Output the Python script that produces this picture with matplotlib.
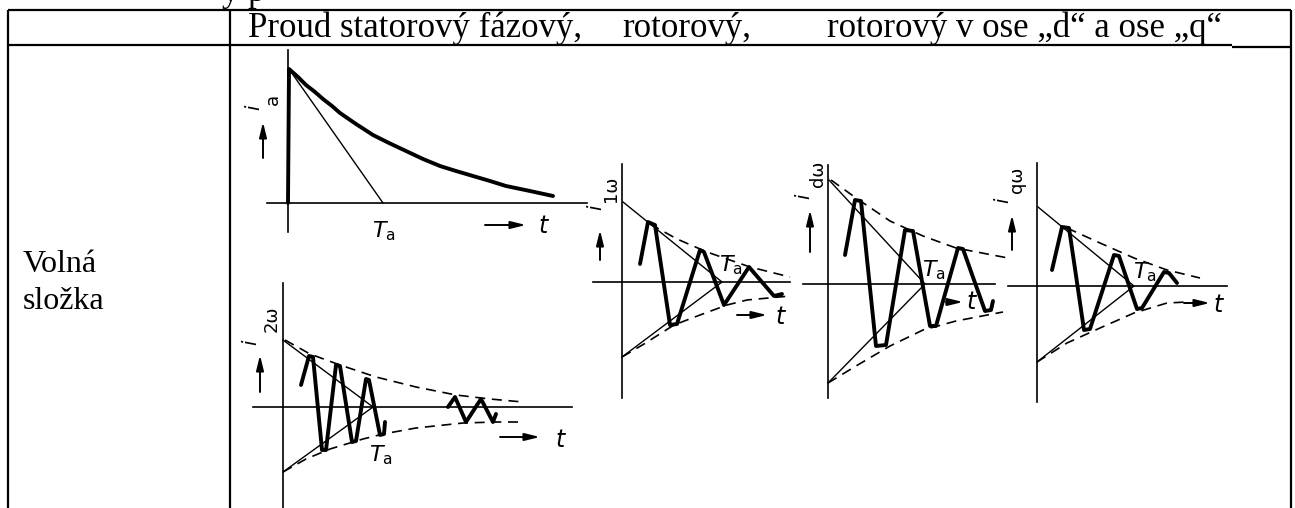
import matplotlib.pyplot as plt

plt.rcParams['font.family'] = ['DejaVu Sans']
plt.rcParams['mathtext.fontset'] = 'dejavusans'

W, H = 1295, 508

# text of the table
head_texts = ['Proud statorový fázový,', 'rotorový,', 'rotorový v ose „d“ a ose „q“']
row_lines = ['Volná', 'složka']

# i_a : stator phase current (aperiodic component)
ia_t = [0, 1, 10, 18, 27, 35, 44, 52, 68, 85, 101, 118, 135, 152, 168, 185, 202, 218, 242, 265]
ia_i = [0, 134, 126, 118, 111, 104, 97, 90, 79, 68, 60, 52, 44, 37, 32, 27, 22, 17, 12, 7]
ia_tan_t = [1, 95]
ia_tan_i = [134, 0]

# i_2w : rotor current, double frequency
i2w_osc_t = [18, 26, 30, 39, 43, 53, 57, 69, 73, 83, 86, 97, 101, 102]
i2w_osc_i = [22, 51, 50, -43, -43, 42, 41, -35, -34, 28, 27, -28, -27, -15]
i2w_tail_t = [165, 172, 183, 198, 210, 213]
i2w_tail_i = [0, 10, -15, 8, -15, -7]
i2w_up_t = [2, 27, 57, 93, 133, 173, 207, 240]
i2w_up_i = [67, 53, 42, 30, 20, 12, 8, 5]
i2w_lo_t = [0, 23, 47, 80, 100, 133, 180, 213, 240]
i2w_lo_i = [-65, -52, -42, -32, -27, -21, -16, -15, -15]
i2w_tan_t = [0, 90, 0]
i2w_tan_i = [67, 0, -65]

# i_1w : rotor current
i1w_osc_t = [18, 26, 33, 48, 55, 78, 82, 102, 127, 152, 160]
i1w_osc_i = [18, 60, 57, -43, -42, 32, 30, -23, 15, -14, -12]
i1w_up_t = [28, 55, 85, 128, 168]
i1w_up_i = [58, 43, 30, 15, 5]
i1w_lo_t = [0, 22, 52, 78, 105, 125, 168]
i1w_lo_i = [-75, -62, -43, -33, -23, -18, -14]
i1w_tan_t = [1, 100, 0]
i1w_tan_i = [80, 0, -75]

# i_dw : rotor current, d axis
idw_osc_t = [17, 27, 33, 48, 58, 77, 85, 102, 108, 130, 135, 157, 163, 165]
idw_osc_i = [29, 84, 83, -62, -61, 54, 53, -42, -42, 36, 35, -27, -26, -17]
idw_up_t = [3, 28, 62, 95, 128, 180]
idw_up_i = [104, 86, 63, 48, 36, 26]
idw_lo_t = [0, 28, 62, 95, 128, 175]
idw_lo_i = [-99, -82, -62, -46, -37, -28]
idw_tan_t = [1, 97, 0]
idw_tan_i = [104, 0, -99]

# i_qw : rotor current, q axis
iqw_osc_t = [15, 25, 32, 47, 53, 77, 82, 100, 105, 127, 132, 140]
iqw_osc_i = [16, 59, 58, -44, -43, 31, 30, -23, -22, 14, 13, 3]
iqw_up_t = [30, 63, 97, 130, 163]
iqw_up_i = [58, 43, 28, 16, 8]
iqw_lo_t = [0, 30, 63, 97, 130, 150]
iqw_lo_i = [-76, -57, -42, -27, -17, -16]
iqw_tan_t = [1, 97, 0]
iqw_tan_i = [79, 0, -76]

fig = plt.figure(figsize=(W / 100, H / 100), dpi=100)

# table frame
tab = fig.add_axes([0, 0, 1, 1])
tab.set_xlim(0, W)
tab.set_ylim(H, 0)
tab.axis('off')
k = dict(color='black', lw=1.6, solid_capstyle='butt')
tab.plot([8, 1291], [10, 10], **k)
tab.plot([8, 1232], [45, 45], **k)
tab.plot([1232, 1291], [47, 47], **k)
for x in (8, 230, 1291):
    tab.plot([x, x], [10, H], **k)
serif = dict(family='Liberation Serif', color='black', va='baseline')
tab.text(222, 1, 'ý p', fontsize=25, **serif)
for x, s in zip([248, 622, 827], head_texts):
    tab.text(x, 37, s, fontsize=25, **serif)
for y, s in zip([272, 309], row_lines):
    tab.text(23, y, s, fontsize=23, **serif)

arrow = dict(arrowstyle='-|>,head_length=0.9,head_width=0.22', color='black', lw=1.4, shrinkA=0, shrinkB=0)
thick = dict(color='black', lw=2.8, solid_joinstyle='round', solid_capstyle='round', clip_on=False)
thin = dict(color='black', lw=1.0, clip_on=False)
dash = dict(color='black', lw=1.2, linestyle=(0, (6, 4)), clip_on=False)


def panel(ox, oy, x0, x1, y0, y1):
    ax = fig.add_axes([(ox + x0) / W, (H - oy + y0) / H, (x1 - x0) / W, (y1 - y0) / H])
    ax.set_xlim(x0, x1)
    ax.set_ylim(y0, y1)
    ax.patch.set_visible(False)
    for s in ('top', 'right'):
        ax.spines[s].set_visible(False)
    for s in ('left', 'bottom'):
        ax.spines[s].set_position(('data', 0))
        ax.spines[s].set_linewidth(1.2)
    ax.set_xticks([])
    ax.set_yticks([])
    return ax


def labels(ax, sub, i_xy, sub_xy, up, tarr, t_xy, ta_xy):
    ax.text(*i_xy, 'i', rotation=90, style='italic', fontsize=14, ha='center', va='center')
    ax.text(*sub_xy, sub, rotation=90, fontsize=13, ha='center', va='center')
    ax.annotate('', xy=(up[0], up[2]), xytext=(up[0], up[1]), arrowprops=arrow, annotation_clip=False)
    ax.annotate('', xy=(tarr[1], tarr[2]), xytext=(tarr[0], tarr[2]), arrowprops=arrow, annotation_clip=False)
    ax.text(*t_xy, 't', style='italic', fontsize=17, ha='center', va='center')
    ax.text(*ta_xy, r'$T_\mathrm{a}$', fontsize=16, ha='center', va='center')


# stator phase current
ax = panel(288, 203, -21, 299, -29, 153)
ax.plot(ia_t, ia_i, **thick)
ax.plot(ia_tan_t, ia_tan_i, **thin)
labels(ax, 'a', (-34, 96), (-15, 104), (-25, 45, 81), (197, 238, -22), (255, -23), (96, -28))

# rotor current 2w
ax = panel(283, 407, -30, 289, -101, 124)
ax.plot(i2w_up_t, i2w_up_i, **dash)
ax.plot(i2w_lo_t, i2w_lo_i, **dash)
ax.plot(i2w_tan_t, i2w_tan_i, **thin)
ax.plot(i2w_osc_t, i2w_osc_i, **thick)
ax.plot(i2w_tail_t, i2w_tail_i, **thick)
labels(ax, '2ω', (-32, 65), (-11, 88), (-23, 15, 52), (217, 257, -30), (277, -33), (98, -48))

# rotor current 1w
ax = panel(622, 282, -29, 168, -116, 118)
ax.plot(i1w_up_t, i1w_up_i, **dash)
ax.plot(i1w_lo_t, i1w_lo_i, **dash)
ax.plot(i1w_tan_t, i1w_tan_i, **thin)
ax.plot(i1w_osc_t, i1w_osc_i, **thick)
labels(ax, '1ω', (-26, 75), (-11, 93), (-22, 22, 52), (115, 145, -33), (158, -35), (109, 17))

# rotor current, d axis
ax = panel(828, 284, -25, 167, -114, 119)
ax.plot(idw_up_t, idw_up_i, **dash)
ax.plot(idw_lo_t, idw_lo_i, **dash)
ax.plot(idw_tan_t, idw_tan_i, **thin)
ax.plot(idw_osc_t, idw_osc_i, **thick)
labels(ax, 'dω', (-24, 88), (-10, 110), (-18, 32, 74), (118, 135, -18), (143, -18), (106, 14))

# rotor current, q axis
ax = panel(1037, 286, -29, 190, -116, 123)
ax.plot(iqw_up_t, iqw_up_i, **dash)
ax.plot(iqw_lo_t, iqw_lo_i, **dash)
ax.plot(iqw_tan_t, iqw_tan_i, **thin)
ax.plot(iqw_osc_t, iqw_osc_i, **thick)
labels(ax, 'qω', (-34, 86), (-20, 106), (-25, 36, 71), (147, 173, -17), (181, -19), (108, 14))

fig.savefig('out.png', dpi=100)
